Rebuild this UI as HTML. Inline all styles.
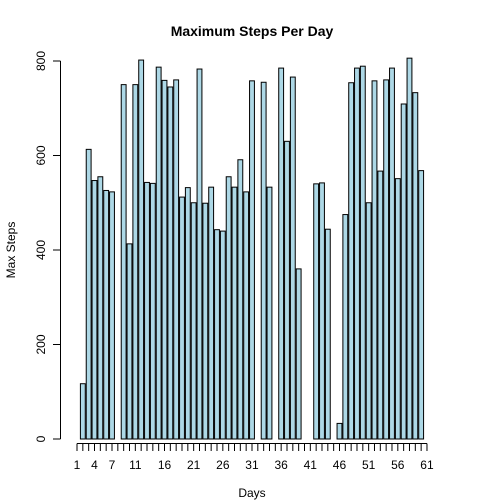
<!DOCTYPE html>
<html><head><meta charset="utf-8"><style>
body{margin:0;background:#fff}
svg{display:block;font-family:"Liberation Sans",sans-serif}
</style></head><body>
<svg id="chart" width="504" height="504" viewBox="0 0 504 504">
<text x="252" y="36" text-anchor="middle" font-size="14" font-weight="bold">Maximum Steps Per Day</text>
<text x="252" y="497" text-anchor="middle" font-size="12">Days</text>
<text transform="translate(15,250) rotate(-90)" text-anchor="middle" font-size="12">Max Steps</text>
<g id="bars"></g>
<g id="yaxis"></g>
<g id="xaxis"></g>
</svg>
<script>
const days = [];
for (let d = 1; d <= 61; d++) days.push(d);
const maxSteps = [null,117,613,547,555,526,523,null,750,413,750,802,543,541,787,759,745,760,512,532,500,783,499,533,443,440,555,533,591,523,758,null,755,533,null,785,630,766,360,null,null,540,542,444,null,33,475,754,785,789,500,758,567,760,785,551,709,806,733,568,null];
const yTicks = [0,200,400,600,800];
const xTickLabels = [1,4,7,11,16,21,26,31,36,41,46,51,56,61];

const NS = "http://www.w3.org/2000/svg";
const y = v => 439 - v * 378 / 800;
const x = d => 77 + (d - 1) * 5.833;
const bw = 4.86;
function mk(tag, attrs, parent){const e=document.createElementNS(NS,tag);for(const k in attrs)e.setAttribute(k,attrs[k]);parent.appendChild(e);return e;}

const gb = document.getElementById('bars');
days.forEach((d,i)=>{
  const v = maxSteps[i];
  if (v === null) return;
  const r = mk('rect',{x:x(d)-bw/2,y:y(v),width:bw,height:y(0)-y(v),fill:'#ADD8E6',stroke:'#000','stroke-width':1},gb);
  
  
});

const gy = document.getElementById('yaxis');
mk('line',{x1:60.5,x2:60.5,y1:y(0),y2:y(800),stroke:'#000'},gy);
yTicks.forEach(t=>{
  mk('line',{x1:53,x2:60.5,y1:y(t),y2:y(t),stroke:'#000'},gy);
  const tx = mk('text',{transform:`translate(45,${y(t)}) rotate(-90)`,'text-anchor':'middle','font-size':12},gy);
  tx.textContent = t;
  
  
});

const gx = document.getElementById('xaxis');
mk('line',{x1:x(1),x2:x(61),y1:443.5,y2:443.5,stroke:'#000'},gx);
days.forEach(d=>{ mk('line',{x1:x(d),x2:x(d),y1:443.5,y2:451,stroke:'#000'},gx); });
xTickLabels.forEach(d=>{
  const tx = mk('text',{x:x(d),y:469,'text-anchor':'middle','font-size':12},gx);
  tx.textContent = d;
  
  
});
</script>
</body></html>
